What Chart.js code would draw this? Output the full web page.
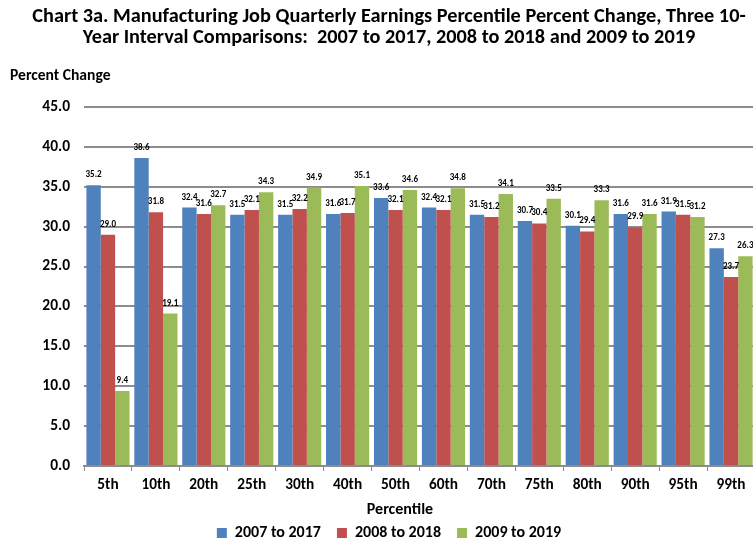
<!DOCTYPE html>
<html>
<head>
<meta charset="utf-8">
<script src="https://cdn.jsdelivr.net/npm/chart.js@4/dist/chart.umd.min.js"></script>
<style>
  html, body { margin: 0; padding: 0; background: #fff; overflow: hidden; }
  #wrap { width: 778px; height: 543px; }
</style>
</head>
<body>
<div id="wrap"><canvas id="c" width="778" height="543"></canvas></div>
<script>
// Percentile categories along the x axis
const categories = ['5th', '10th', '20th', '25th', '30th', '40th', '50th', '60th', '70th', '75th', '80th', '90th', '95th', '99th'];

// Percent change in quarterly earnings for each 10-year interval
const change2007to2017 = [35.2, 38.6, 32.4, 31.5, 31.5, 31.6, 33.6, 32.4, 31.5, 30.7, 30.1, 31.6, 31.9, 27.3];
const change2008to2018 = [29.0, 31.8, 31.6, 32.1, 32.2, 31.7, 32.1, 32.1, 31.2, 30.4, 29.4, 29.9, 31.5, 23.7];
const change2009to2019 = [9.4, 19.1, 32.7, 34.3, 34.9, 35.1, 34.6, 34.8, 34.1, 33.5, 33.3, 31.6, 31.2, 26.3];

const seriesNames = ['2007 to 2017', '2008 to 2018', '2009 to 2019'];

// Y axis range
const yMin = 0, yMax = 45, yStep = 5;

const FONT = 'Carlito, Calibri, Lato, sans-serif';

// Value labels above each bar plus the free-standing axis titles
const annotations = {
  id: 'annotations',
  afterInit(chart) {
    // keep the legend strip compact so the plot can extend further down
    const legend = chart.legend;
    const fit = legend.fit.bind(legend);
    legend.fit = function () { fit(); this.height = 34; };
  },
  afterDatasetsDraw(chart) {
    const ctx = chart.ctx;
    ctx.save();
    ctx.fillStyle = '#000';
    ctx.font = 'bold 9px ' + FONT;
    ctx.textAlign = 'center';
    ctx.textBaseline = 'alphabetic';
    chart.data.datasets.forEach((ds, i) => {
      const meta = chart.getDatasetMeta(i);
      meta.data.forEach((bar, j) => {
        ctx.fillText(ds.data[j].toFixed(1), bar.x, bar.y - 8);
      });
    });
    const area = chart.chartArea;
    ctx.textBaseline = 'middle';
    ctx.textAlign = 'left';
    ctx.font = 'bold 15.6px ' + FONT;
    ctx.fillText('Percent Change', 10, area.top - 31);
    ctx.textAlign = 'center';
    ctx.font = 'bold 16px ' + FONT;
    ctx.fillText('Percentile', 400, area.bottom + 44);
    ctx.restore();
  }
};

new Chart(document.getElementById('c'), {
  type: 'bar',
  data: {
    labels: categories,
    datasets: [
      { label: seriesNames[0], data: change2007to2017, backgroundColor: '#4F81BD' },
      { label: seriesNames[1], data: change2008to2018, backgroundColor: '#C0504D' },
      { label: seriesNames[2], data: change2009to2019, backgroundColor: '#9BBB59' }
    ]
  },
  options: {
    responsive: false,
    animation: false,
    devicePixelRatio: 1,
    layout: { padding: { top: 6, right: 0, bottom: 0, left: 0 } },
    datasets: { bar: { categoryPercentage: 0.9, barPercentage: 1.0 } },
    plugins: {
      title: {
        display: true,
        text: ['Chart 3a. Manufacturing Job Quarterly Earnings Percentile Percent Change, Three 10-',
               'Year Interval Comparisons:  2007 to 2017, 2008 to 2018 and 2009 to 2019'],
        color: '#000',
        font: { family: FONT, size: 20.3, weight: 'bold', lineHeight: '21px' },
        padding: { top: 0, bottom: 59 }
      },
      legend: {
        position: 'bottom',
        labels: {
          color: '#000',
          boxWidth: 10,
          boxHeight: 10,
          padding: 16,
          font: { family: FONT, size: 16, weight: 'bold' }
        }
      },
      tooltip: { enabled: false }
    },
    scales: {
      x: {
        grid: { drawOnChartArea: false, drawTicks: true, tickLength: 5, color: '#8c8c8c', offset: true },
        border: { display: true, color: '#8c8c8c', width: 2 },
        ticks: { color: '#000', padding: 5, font: { family: FONT, size: 15.3, weight: 'bold' } },
        afterFit(scale) { scale.height = 43; }
      },
      y: {
        min: yMin,
        max: yMax,
        border: { display: false },
        grid: { color: '#8c8c8c', lineWidth: 2, drawTicks: false },
        ticks: {
          stepSize: yStep,
          color: '#000',
          padding: 14,
          font: { family: FONT, size: 15.5, weight: 'bold' },
          callback: v => v.toFixed(1)
        },
        afterFit(scale) { scale.width = 84; }
      },
      // empty right-hand margin strip beside the plot
      yMargin: {
        type: 'linear',
        position: 'right',
        min: yMin,
        max: yMax,
        border: { display: false },
        grid: { drawOnChartArea: false, drawTicks: false },
        ticks: { display: false },
        afterFit(scale) { scale.width = 23; }
      }
    }
  },
  plugins: [annotations]
});
</script>
</body>
</html>
